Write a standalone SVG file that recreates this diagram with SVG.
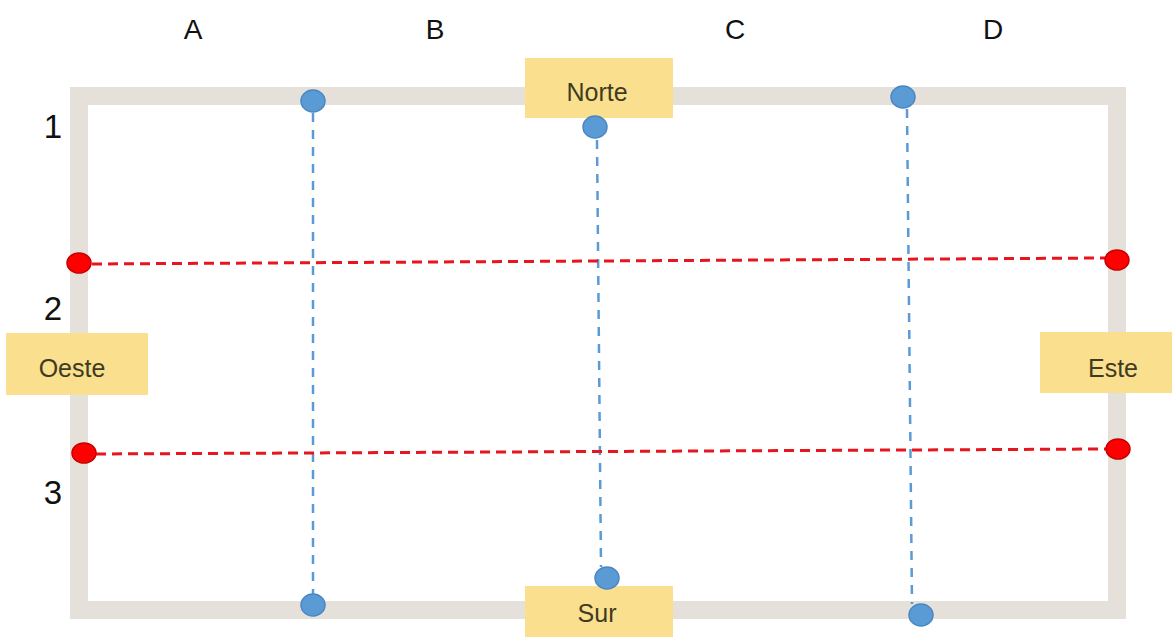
<svg xmlns="http://www.w3.org/2000/svg" width="1172" height="637" viewBox="0 0 1172 637">
<style>
.frame{fill:none;stroke:#e5e1da;stroke-width:18}
.tag{fill:#f9df8e}
.tagtxt{font-family:"Liberation Sans",Arial,sans-serif;font-size:25px;fill:#3e3b22;text-anchor:middle}
.axis{font-family:"Liberation Sans",Arial,sans-serif;font-size:28px;fill:#111;text-anchor:middle}
.row{font-size:33px}
.bdot{fill:#5b9bd5;stroke:#4a87c2;stroke-width:1.5}
.rdot{fill:#ff0000;stroke:#c80000;stroke-width:1.5}
.bline{fill:none;stroke:#5b9bd5;stroke-width:2.5;stroke-dasharray:9 8}
.rline{fill:none;stroke:#e8141e;stroke-width:3;stroke-dasharray:10 6}
</style>
<rect width="1172" height="637" fill="#ffffff"/>
<g id="frame"><rect class="frame" x="79" y="96" width="1038" height="514"/></g>
<g id="axis-labels">
<text class="axis" x="193" y="39">A</text>
<text class="axis" x="435" y="39">B</text>
<text class="axis" x="735" y="39">C</text>
<text class="axis" x="993" y="39">D</text>
<text class="axis row" x="53" y="138">1</text>
<text class="axis row" x="53" y="320">2</text>
<text class="axis row" x="53" y="504">3</text>
</g>
<g id="connectors">
<line class="bline" x1="313" y1="113" x2="313" y2="594"/>
<line class="bline" x1="597" y1="140" x2="601" y2="567"/>
<line class="bline" x1="907" y1="109" x2="912" y2="604"/>
<line class="rline" x1="92" y1="264" x2="1105" y2="258"/>
<line class="rline" x1="96" y1="454" x2="1106" y2="449"/>
</g>
<g id="norte"><rect class="tag" x="525" y="58" width="148" height="60"/><text class="tagtxt" x="597" y="101">Norte</text></g>
<g id="sur"><rect class="tag" x="525" y="586" width="148" height="51"/><text class="tagtxt" x="597" y="622">Sur</text></g>
<g id="oeste"><rect class="tag" x="6" y="333" width="142" height="62"/><text class="tagtxt" x="72" y="377">Oeste</text></g>
<g id="este"><rect class="tag" x="1040" y="332" width="132" height="61"/><text class="tagtxt" x="1113" y="377">Este</text></g>
<g id="dots">
<ellipse id="b1" class="bdot" cx="313" cy="101" rx="12" ry="11"/>
<ellipse id="b2" class="bdot" cx="313" cy="605" rx="12" ry="11"/>
<ellipse id="c1" class="bdot" cx="595" cy="127" rx="12" ry="11"/>
<ellipse id="c2" class="bdot" cx="607" cy="578" rx="12" ry="11"/>
<ellipse id="d1" class="bdot" cx="903" cy="97" rx="12" ry="11"/>
<ellipse id="d2" class="bdot" cx="921" cy="615" rx="12" ry="11"/>
<ellipse id="r1" class="rdot" cx="79" cy="263" rx="12" ry="10"/>
<ellipse id="r2" class="rdot" cx="1117" cy="260" rx="12" ry="10"/>
<ellipse id="r3" class="rdot" cx="84" cy="453" rx="12" ry="10"/>
<ellipse id="r4" class="rdot" cx="1118" cy="449" rx="12" ry="10"/>
</g>
</svg>
